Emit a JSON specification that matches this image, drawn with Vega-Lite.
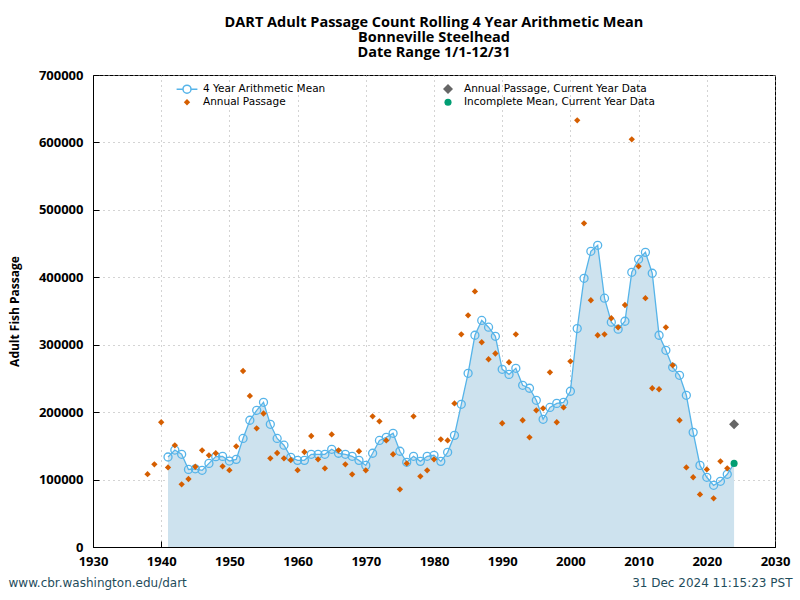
{
  "$schema": "https://vega.github.io/schema/vega-lite/v6.json",
  "width": 682,
  "height": 472,
  "autosize": {"type": "none"},
  "padding": {"left": 93, "top": 75, "right": 25, "bottom": 53},
  "background": "white",
  "config": {
    "view": {"stroke": "black", "strokeWidth": 1},
    "axis": {
      "domainColor": "black",
      "tickColor": "black",
      "tickSize": -6,
      "labelFont": "Open Sans",
      "labelFontWeight": "bold",
      "labelFontSize": 13,
      "labelColor": "black",
      "gridColor": "#a8a8a8",
      "gridDash": [1, 4],
      "gridWidth": 1
    },
    "legend": {
      "orient": "none",
      "legendX": 88,
      "legendY": 8,
      "columns": 2,
      "columnPadding": 114,
      "rowPadding": -2,
      "padding": 0,
      "symbolOpacity": 1,
      "labelFont": "DejaVu Sans",
      "labelFontSize": 10.5,
      "labelColor": "black",
      "labelOffset": 10,
      "labelLimit": 400
    }
  },
  "title": {
    "text": ["DART Adult Passage Count Rolling 4 Year Arithmetic Mean", "Bonneville Steelhead", "Date Range 1/1-12/31"],
    "font": "Open Sans",
    "fontSize": 14.5,
    "fontWeight": "bold",
    "lineHeight": 15,
    "anchor": "middle",
    "offset": 9,
    "color": "black"
  },
  "data": {
    "values": [
      {"year": 1941, "v": 133500, "s": "M"}, {"year": 1942, "v": 143800, "s": "M"}, {"year": 1943, "v": 137500, "s": "M"},
      {"year": 1944, "v": 115000, "s": "M"}, {"year": 1945, "v": 116000, "s": "M"}, {"year": 1946, "v": 113700, "s": "M"},
      {"year": 1947, "v": 124000, "s": "M"}, {"year": 1948, "v": 134000, "s": "M"}, {"year": 1949, "v": 134400, "s": "M"},
      {"year": 1950, "v": 127500, "s": "M"}, {"year": 1951, "v": 130000, "s": "M"}, {"year": 1952, "v": 161000, "s": "M"},
      {"year": 1953, "v": 188000, "s": "M"}, {"year": 1954, "v": 202700, "s": "M"}, {"year": 1955, "v": 214600, "s": "M"},
      {"year": 1956, "v": 182000, "s": "M"}, {"year": 1957, "v": 161000, "s": "M"}, {"year": 1958, "v": 151000, "s": "M"},
      {"year": 1959, "v": 133000, "s": "M"}, {"year": 1960, "v": 128500, "s": "M"}, {"year": 1961, "v": 128500, "s": "M"},
      {"year": 1962, "v": 137500, "s": "M"}, {"year": 1963, "v": 137500, "s": "M"}, {"year": 1964, "v": 137500, "s": "M"},
      {"year": 1965, "v": 144900, "s": "M"}, {"year": 1966, "v": 139000, "s": "M"}, {"year": 1967, "v": 137500, "s": "M"},
      {"year": 1968, "v": 134500, "s": "M"}, {"year": 1969, "v": 128500, "s": "M"}, {"year": 1970, "v": 121000, "s": "M"},
      {"year": 1971, "v": 139000, "s": "M"}, {"year": 1972, "v": 158000, "s": "M"}, {"year": 1973, "v": 162700, "s": "M"},
      {"year": 1974, "v": 168600, "s": "M"}, {"year": 1975, "v": 142000, "s": "M"}, {"year": 1976, "v": 125600, "s": "M"},
      {"year": 1977, "v": 134500, "s": "M"}, {"year": 1978, "v": 127000, "s": "M"}, {"year": 1979, "v": 134500, "s": "M"},
      {"year": 1980, "v": 136000, "s": "M"}, {"year": 1981, "v": 127000, "s": "M"}, {"year": 1982, "v": 140400, "s": "M"},
      {"year": 1983, "v": 165600, "s": "M"}, {"year": 1984, "v": 211600, "s": "M"}, {"year": 1985, "v": 257600, "s": "M"},
      {"year": 1986, "v": 314000, "s": "M"}, {"year": 1987, "v": 336000, "s": "M"}, {"year": 1988, "v": 326000, "s": "M"},
      {"year": 1989, "v": 312500, "s": "M"}, {"year": 1990, "v": 263500, "s": "M"}, {"year": 1991, "v": 256000, "s": "M"},
      {"year": 1992, "v": 265000, "s": "M"}, {"year": 1993, "v": 239800, "s": "M"}, {"year": 1994, "v": 235400, "s": "M"},
      {"year": 1995, "v": 217600, "s": "M"}, {"year": 1996, "v": 189400, "s": "M"}, {"year": 1997, "v": 207000, "s": "M"},
      {"year": 1998, "v": 213000, "s": "M"}, {"year": 1999, "v": 214600, "s": "M"}, {"year": 2000, "v": 231000, "s": "M"},
      {"year": 2001, "v": 324000, "s": "M"}, {"year": 2002, "v": 398500, "s": "M"}, {"year": 2003, "v": 438500, "s": "M"},
      {"year": 2004, "v": 447400, "s": "M"}, {"year": 2005, "v": 369000, "s": "M"}, {"year": 2006, "v": 333400, "s": "M"},
      {"year": 2007, "v": 323000, "s": "M"}, {"year": 2008, "v": 334800, "s": "M"}, {"year": 2009, "v": 407400, "s": "M"},
      {"year": 2010, "v": 426700, "s": "M"}, {"year": 2011, "v": 437000, "s": "M"}, {"year": 2012, "v": 406000, "s": "M"},
      {"year": 2013, "v": 314000, "s": "M"}, {"year": 2014, "v": 291700, "s": "M"}, {"year": 2015, "v": 266500, "s": "M"},
      {"year": 2016, "v": 254600, "s": "M"}, {"year": 2017, "v": 225000, "s": "M"}, {"year": 2018, "v": 170000, "s": "M"},
      {"year": 2019, "v": 121000, "s": "M"}, {"year": 2020, "v": 103400, "s": "M"}, {"year": 2021, "v": 91500, "s": "M"},
      {"year": 2022, "v": 97400, "s": "M"}, {"year": 2023, "v": 107800, "s": "M"},
      {"year": 2024, "v": 124000, "s": "MI"},
      {"year": 1938, "v": 108000, "s": "A"}, {"year": 1939, "v": 122600, "s": "A"}, {"year": 1940, "v": 185000, "s": "A"},
      {"year": 1941, "v": 118000, "s": "A"}, {"year": 1942, "v": 150800, "s": "A"}, {"year": 1943, "v": 93000, "s": "A"},
      {"year": 1944, "v": 100800, "s": "A"}, {"year": 1945, "v": 119000, "s": "A"}, {"year": 1946, "v": 143400, "s": "A"},
      {"year": 1947, "v": 136000, "s": "A"}, {"year": 1948, "v": 139000, "s": "A"}, {"year": 1949, "v": 119700, "s": "A"},
      {"year": 1950, "v": 114000, "s": "A"}, {"year": 1951, "v": 149300, "s": "A"}, {"year": 1952, "v": 261000, "s": "A"},
      {"year": 1953, "v": 224000, "s": "A"}, {"year": 1954, "v": 176000, "s": "A"}, {"year": 1955, "v": 198000, "s": "A"},
      {"year": 1956, "v": 131500, "s": "A"}, {"year": 1957, "v": 139400, "s": "A"}, {"year": 1958, "v": 131500, "s": "A"},
      {"year": 1959, "v": 129000, "s": "A"}, {"year": 1960, "v": 114000, "s": "A"}, {"year": 1961, "v": 140900, "s": "A"},
      {"year": 1962, "v": 164600, "s": "A"}, {"year": 1963, "v": 130000, "s": "A"}, {"year": 1964, "v": 116700, "s": "A"},
      {"year": 1965, "v": 167000, "s": "A"}, {"year": 1966, "v": 143400, "s": "A"}, {"year": 1967, "v": 122600, "s": "A"},
      {"year": 1968, "v": 107800, "s": "A"}, {"year": 1969, "v": 142000, "s": "A"}, {"year": 1970, "v": 113700, "s": "A"},
      {"year": 1971, "v": 193800, "s": "A"}, {"year": 1972, "v": 186400, "s": "A"}, {"year": 1973, "v": 158000, "s": "A"},
      {"year": 1974, "v": 137500, "s": "A"}, {"year": 1975, "v": 85500, "s": "A"}, {"year": 1976, "v": 124000, "s": "A"},
      {"year": 1977, "v": 193800, "s": "A"}, {"year": 1978, "v": 104800, "s": "A"}, {"year": 1979, "v": 113700, "s": "A"},
      {"year": 1980, "v": 130000, "s": "A"}, {"year": 1981, "v": 159700, "s": "A"}, {"year": 1982, "v": 158000, "s": "A"},
      {"year": 1983, "v": 213000, "s": "A"}, {"year": 1984, "v": 315400, "s": "A"}, {"year": 1985, "v": 343600, "s": "A"},
      {"year": 1986, "v": 379000, "s": "A"}, {"year": 1987, "v": 303600, "s": "A"}, {"year": 1988, "v": 278400, "s": "A"},
      {"year": 1989, "v": 287000, "s": "A"}, {"year": 1990, "v": 183500, "s": "A"}, {"year": 1991, "v": 274000, "s": "A"},
      {"year": 1992, "v": 315400, "s": "A"}, {"year": 1993, "v": 188000, "s": "A"}, {"year": 1994, "v": 162700, "s": "A"},
      {"year": 1995, "v": 202700, "s": "A"}, {"year": 1996, "v": 205700, "s": "A"}, {"year": 1997, "v": 259000, "s": "A"},
      {"year": 1998, "v": 185000, "s": "A"}, {"year": 1999, "v": 207000, "s": "A"}, {"year": 2000, "v": 275400, "s": "A"},
      {"year": 2001, "v": 632800, "s": "A"}, {"year": 2002, "v": 480000, "s": "A"}, {"year": 2003, "v": 365900, "s": "A"},
      {"year": 2004, "v": 314000, "s": "A"}, {"year": 2005, "v": 315400, "s": "A"}, {"year": 2006, "v": 339200, "s": "A"},
      {"year": 2007, "v": 325800, "s": "A"}, {"year": 2008, "v": 358900, "s": "A"}, {"year": 2009, "v": 604600, "s": "A"},
      {"year": 2010, "v": 416300, "s": "A"}, {"year": 2011, "v": 369000, "s": "A"}, {"year": 2012, "v": 235400, "s": "A"},
      {"year": 2013, "v": 234000, "s": "A"}, {"year": 2014, "v": 325800, "s": "A"}, {"year": 2015, "v": 269500, "s": "A"},
      {"year": 2016, "v": 188000, "s": "A"}, {"year": 2017, "v": 118000, "s": "A"}, {"year": 2018, "v": 103400, "s": "A"},
      {"year": 2019, "v": 78000, "s": "A"}, {"year": 2020, "v": 115000, "s": "A"}, {"year": 2021, "v": 72200, "s": "A"},
      {"year": 2022, "v": 127000, "s": "A"}, {"year": 2023, "v": 116700, "s": "A"},
      {"year": 2024, "v": 182000, "s": "AC"}
    ]
  },
  "resolve": {"axis": {"x": "independent"}},
  "layer": [
    {
      "transform": [{"filter": "datum.s == 'M' || datum.s == 'MI'"}],
      "mark": {"type": "area", "color": "#cde2ee", "opacity": 1},
      "encoding": {
        "x": {
          "field": "year", "type": "quantitative",
          "scale": {"domain": [1930, 2030], "nice": false, "zero": false},
          "axis": {
            "orient": "bottom",
            "values": [1930, 1940, 1950, 1960, 1970, 1980, 1990, 2000, 2010, 2020, 2030],
            "format": "d", "grid": true, "labelPadding": 14, "labelFlush": false,
            "title": "www.cbr.washington.edu/dart",
            "titleFont": "DejaVu Sans", "titleFontSize": 12, "titleFontWeight": "normal", "titleColor": "#1f4d5c",
            "titleAnchor": "start", "titleAlign": "left", "titleBaseline": "alphabetic",
            "titleX": -85, "titleY": 39
          }
        },
        "y": {
          "field": "v", "type": "quantitative",
          "scale": {"domain": [0, 700000], "nice": false},
          "axis": {
            "values": [0, 100000, 200000, 300000, 400000, 500000, 600000, 700000],
            "format": "d", "grid": true, "labelPadding": 16,
            "title": "Adult Fish Passage",
            "titleFont": "Open Sans", "titleFontSize": 12, "titleFontWeight": "bold", "titleColor": "black",
            "titlePadding": 17
          }
        }
      }
    },
    {
      "transform": [{"filter": "datum.s == 'M' || datum.s == 'MI'"}],
      "mark": {"type": "line", "color": "#56b4e9", "strokeWidth": 1.3},
      "encoding": {
        "x": {
          "field": "year", "type": "quantitative",
          "axis": {
            "orient": "bottom",
            "labels": false, "ticks": false, "domain": false, "grid": false,
            "title": "31 Dec 2024 11:15:23 PST",
            "titleFont": "DejaVu Sans", "titleFontSize": 12, "titleFontWeight": "normal", "titleColor": "#1f4d5c",
            "titleAnchor": "end", "titleAlign": "right", "titleBaseline": "alphabetic",
            "titleX": 699, "titleY": 39
          }
        },
        "y": {"field": "v", "type": "quantitative"}
      }
    },
    {
      "transform": [{"filter": "datum.s == 'M'"}],
      "mark": {"type": "point", "shape": "circle", "filled": false, "stroke": "#56b4e9", "strokeWidth": 1.3, "size": 64, "opacity": 1},
      "encoding": {
        "x": {"field": "year", "type": "quantitative", "axis": null},
        "y": {"field": "v", "type": "quantitative"}
      }
    },
    {
      "transform": [{"filter": "datum.s == 'A'"}],
      "mark": {"type": "point", "shape": "diamond", "filled": true, "fill": "#d55e00", "strokeWidth": 0, "size": 40, "opacity": 1},
      "encoding": {
        "x": {"field": "year", "type": "quantitative", "axis": null},
        "y": {"field": "v", "type": "quantitative"}
      }
    },
    {
      "transform": [{"filter": "datum.s == 'AC'"}],
      "mark": {"type": "point", "shape": "diamond", "filled": true, "fill": "#666666", "strokeWidth": 0, "size": 100, "opacity": 1},
      "encoding": {
        "x": {"field": "year", "type": "quantitative", "axis": null},
        "y": {"field": "v", "type": "quantitative"}
      }
    },
    {
      "transform": [{"filter": "datum.s == 'MI'"}],
      "mark": {"type": "point", "shape": "circle", "filled": true, "fill": "#009e73", "strokeWidth": 0, "size": 50, "opacity": 1},
      "encoding": {
        "x": {"field": "year", "type": "quantitative", "axis": null},
        "y": {"field": "v", "type": "quantitative"}
      }
    },
    {
      "mark": {"type": "point", "filled": false, "strokeWidth": 1.3, "opacity": 0},
      "encoding": {
        "x": {"field": "year", "type": "quantitative", "axis": null},
        "y": {"field": "v", "type": "quantitative"},
        "shape": {
          "field": "s", "type": "nominal",
          "scale": {"domain": ["M", "A", "AC", "MI"], "range": ["M-2.6,0H-1M1,0H2.6M1,0A1,1,0,1,1,-1,0A1,1,0,1,1,1,0", "diamond", "diamond", "circle"]},
          "legend": {
            "title": null,
            "labelExpr": "datum.value == 'M' ? '4 Year Arithmetic Mean' : datum.value == 'A' ? 'Annual Passage' : datum.value == 'AC' ? 'Annual Passage, Current Year Data' : 'Incomplete Mean, Current Year Data'"
          }
        },
        "fill": {
          "field": "s", "type": "nominal",
          "scale": {"domain": ["M", "A", "AC", "MI"], "range": ["transparent", "#d55e00", "#666666", "#009e73"]}
        },
        "stroke": {
          "field": "s", "type": "nominal",
          "scale": {"domain": ["M", "A", "AC", "MI"], "range": ["#56b4e9", "transparent", "transparent", "transparent"]}
        },
        "size": {
          "field": "s", "type": "nominal",
          "scale": {"type": "ordinal", "domain": ["M", "A", "AC", "MI"], "range": [64, 40, 100, 50]}
        }
      }
    }
  ]
}
